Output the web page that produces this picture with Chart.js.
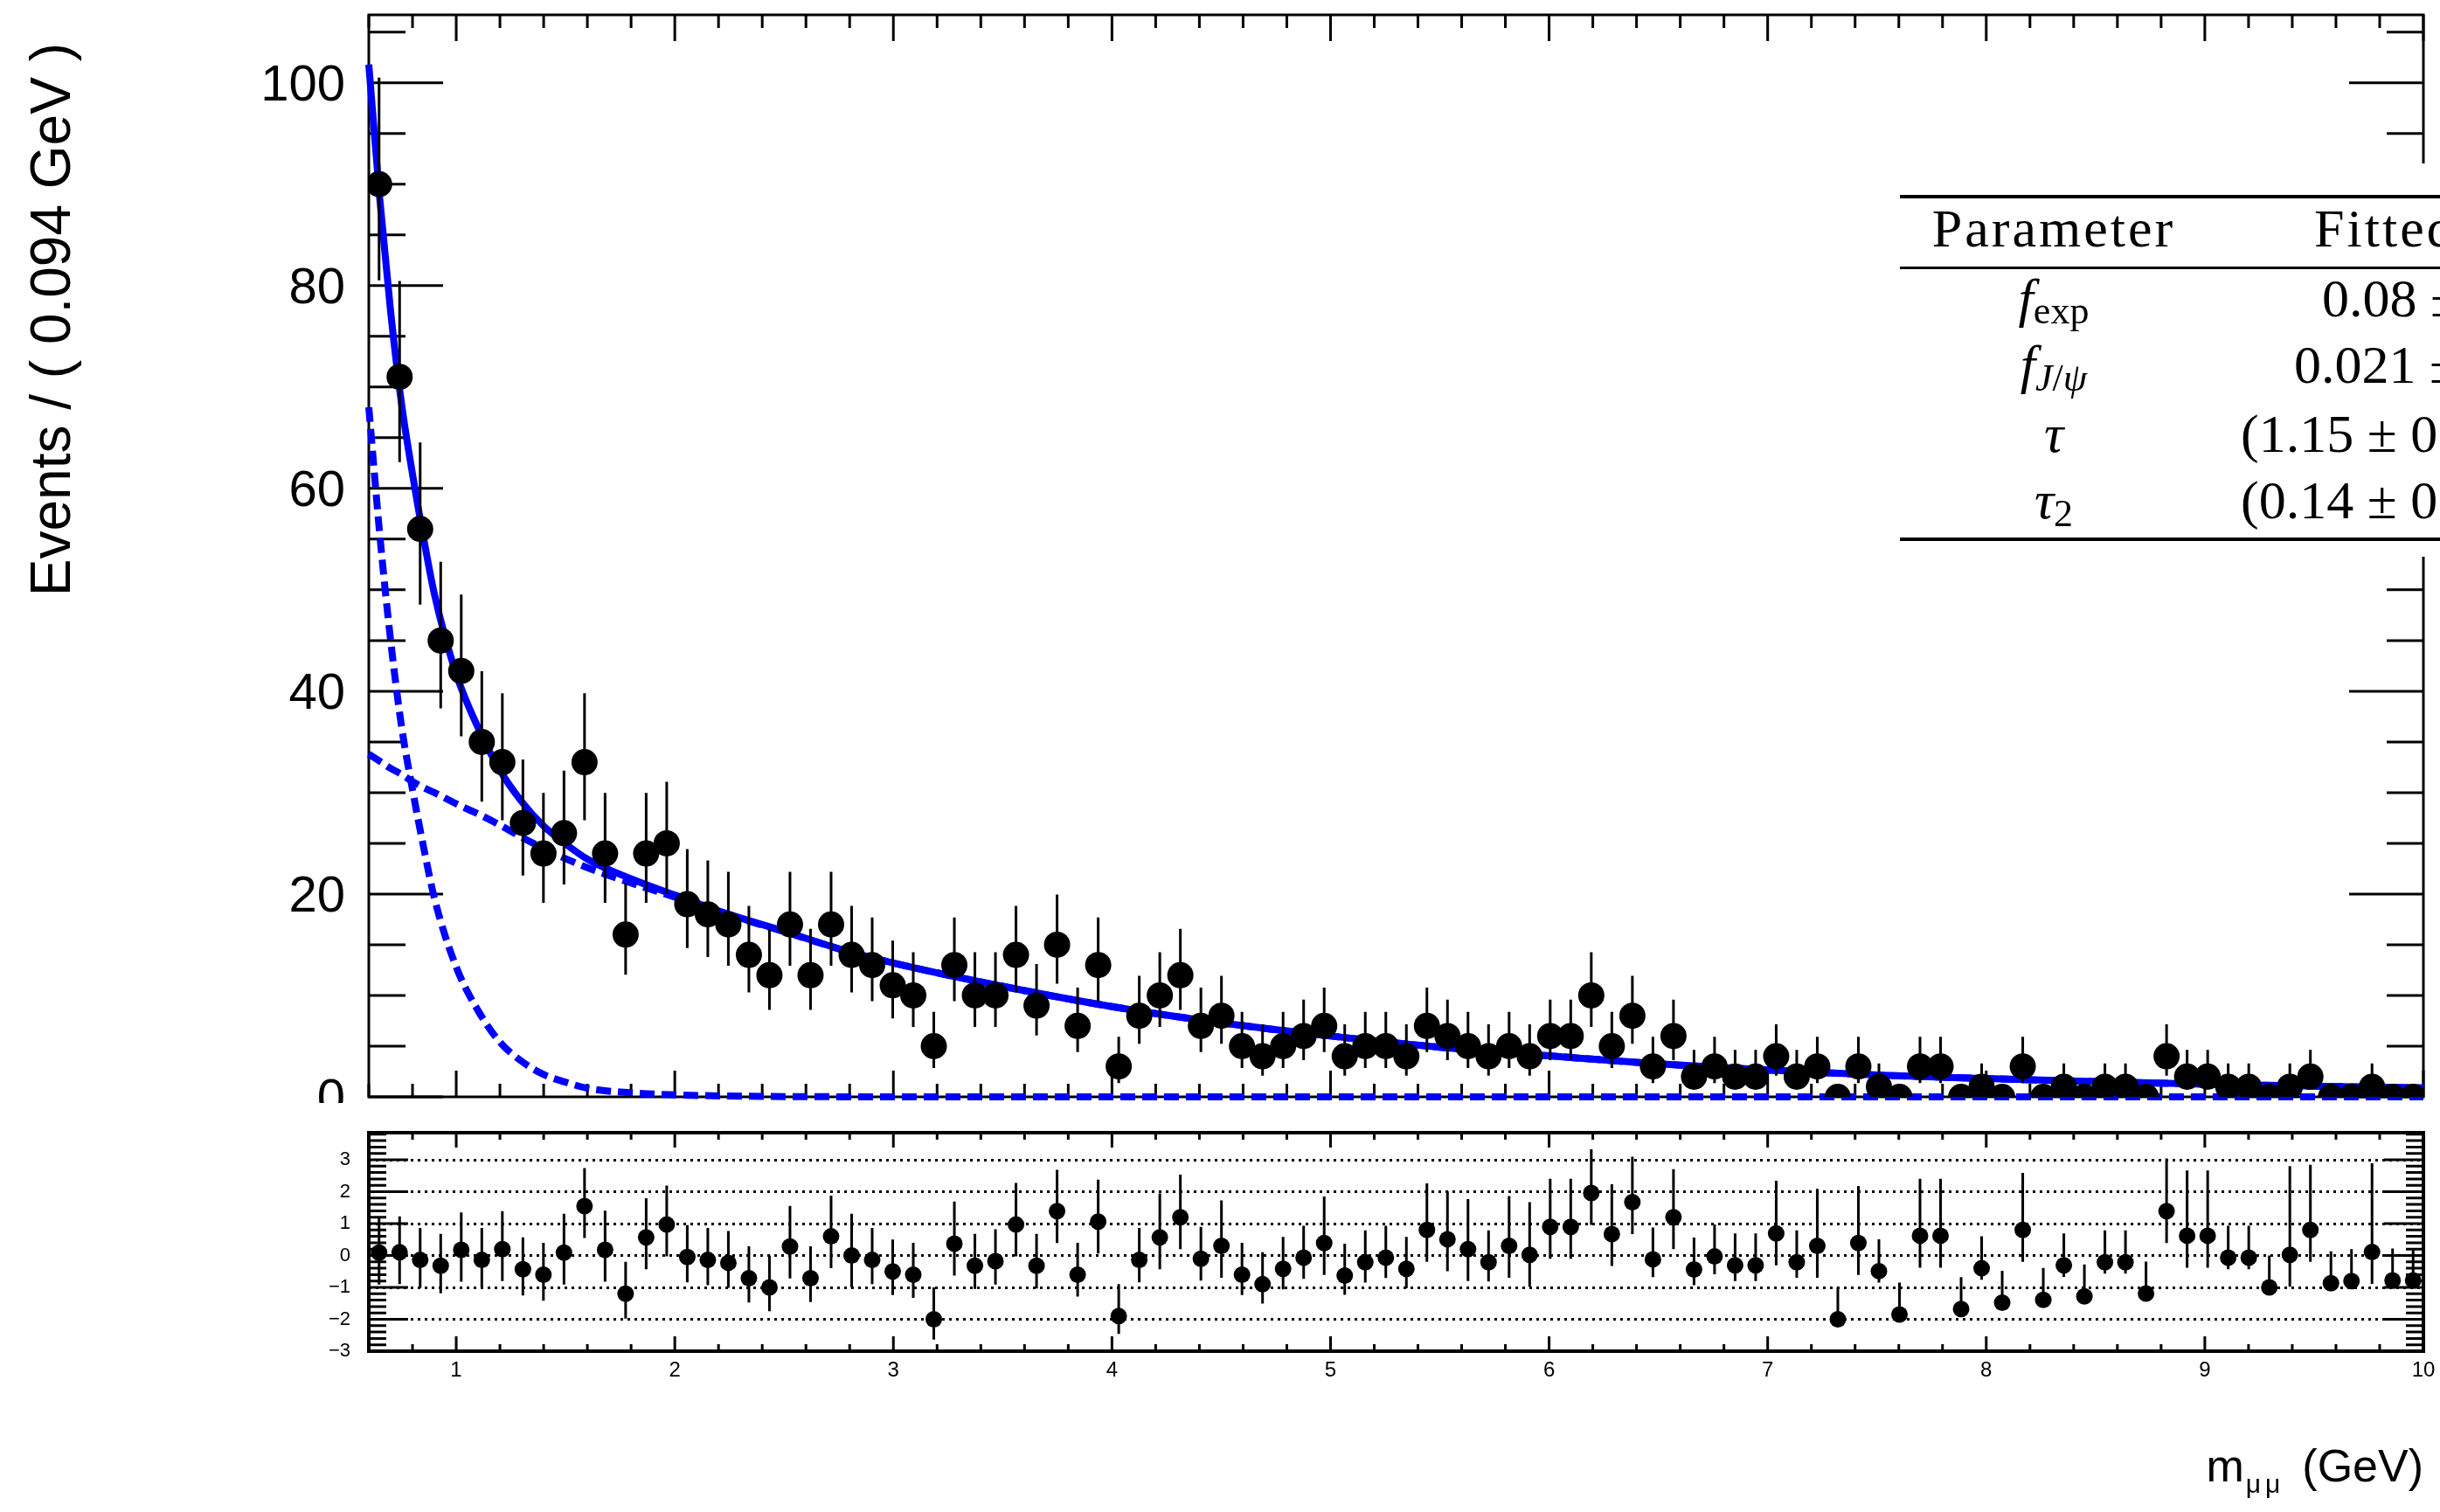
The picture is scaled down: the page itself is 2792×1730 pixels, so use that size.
<!DOCTYPE html>
<html>
<head>
<meta charset="utf-8">
<title>Dimuon mass fit</title>
<script src="https://cdn.jsdelivr.net/npm/chart.js@4.4.1/dist/chart.umd.min.js"></script>
<style>
  html, body { margin: 0; padding: 0; background: #fff; }
  body { position: relative; width: 2792px; height: 1730px; overflow: hidden; }
  #massChart { position: absolute; left: 0; top: 0; }
  #pullChart { position: absolute; left: 0; top: 1262px; background: #fff; }
</style>
</head>
<body>
<canvas id="massChart" width="2792" height="1262"></canvas>
<canvas id="pullChart" width="2792" height="468"></canvas>
<script>
// histogram binning (GeV)
const massRange = [0.6, 10.0];
const binCount = 100;

// events per bin
const eventCounts = [
    90, 71, 56, 45, 42, 35, 33, 27, 24, 26,
    33, 24, 16, 24, 25, 19, 18, 17, 14, 12,
    17, 12, 17, 14, 13, 11, 10, 5, 13, 10,
    10, 14, 9, 15, 7, 13, 3, 8, 10, 12,
    7, 8, 5, 4, 5, 6, 7, 4, 5, 5,
    4, 7, 6, 5, 4, 5, 4, 6, 6, 10,
    5, 8, 3, 6, 2, 3, 2, 2, 4, 2,
    3, 0, 3, 1, 0, 3, 3, 0, 1, 0,
    3, 0, 1, 0, 1, 1, 0, 4, 2, 2,
    1, 1, 0, 1, 2, 0, 0, 1, 0, 0
];

// pull per bin: (data - fit) / error
const pullValues = [
    0.09, 0.1, -0.14, -0.32, 0.18, -0.14, 0.2, -0.43, -0.6, 0.09,
    1.55, 0.18, -1.2, 0.57, 0.97, -0.05, -0.14, -0.23, -0.71, -1.0,
    0.28, -0.71, 0.6, 0.0, -0.14, -0.5, -0.6, -2.0, 0.37, -0.32,
    -0.18, 0.97, -0.32, 1.39, -0.6, 1.06, -1.9, -0.14, 0.57, 1.2,
    -0.1, 0.3, -0.6, -0.9, -0.42, -0.07, 0.39, -0.63, -0.21, -0.07,
    -0.42, 0.8, 0.51, 0.2, -0.21, 0.3, 0.02, 0.9, 0.9, 1.96,
    0.67, 1.67, -0.12, 1.2, -0.44, -0.03, -0.31, -0.31, 0.69, -0.21,
    0.3, -2.0, 0.39, -0.49, -1.85, 0.62, 0.62, -1.68, -0.4, -1.48,
    0.8, -1.39, -0.31, -1.28, -0.21, -0.21, -1.19, 1.39, 0.62, 0.62,
    -0.07, -0.07, -1.0, 0.02, 0.8, -0.87, -0.8, 0.11, -0.78, -0.78
];

// fitted model and its two exponential components, sampled along m_mumu
const fitMass = [0.6, 0.65, 0.7, 0.75, 0.8, 0.85, 0.9, 1.0, 1.1, 1.2, 1.3, 1.4, 1.5, 1.6, 1.8, 2.0, 2.25, 2.5, 2.75, 3.0,
    3.5, 4.0, 4.5, 5.0, 5.5, 6.0, 6.5, 7.0, 7.5, 8.0, 8.5, 9.0, 9.5, 10.0];
const fitTotal = [101.8, 88.6, 77.4, 68.3, 61.4, 55.2, 49.6, 41.7, 36.4, 32.2, 29.1, 26.7, 24.95, 23.45, 21.5, 19.9, 17.98, 16.33, 14.61, 13.2,
    10.9, 8.9, 7.3, 6.0, 4.9, 4.05, 3.25, 2.65, 2.15, 1.8, 1.5, 1.25, 1.05, 0.88];
const fitSlowExp = [33.8, 33.1, 32.4, 31.8, 31.1, 30.5, 30.0, 28.9, 27.9, 26.8, 25.6, 24.5, 23.5, 22.6, 21.1, 19.7, 17.9, 16.3, 14.6, 13.2,
    10.9, 8.9, 7.3, 6.0, 4.9, 4.05, 3.25, 2.65, 2.15, 1.8, 1.5, 1.25, 1.05, 0.88];
const fitFastExp = [68.0, 55.5, 45.0, 36.5, 30.3, 24.7, 19.6, 12.8, 8.5, 5.4, 3.5, 2.2, 1.45, 0.85, 0.4, 0.2, 0.08, 0.03, 0.01, 0,
    0, 0, 0, 0, 0, 0, 0, 0, 0, 0, 0, 0, 0, 0];

// labelled ticks
const countTicks = [0, 20, 40, 60, 80, 100];
const pullTicks = [-3, -2, -1, 0, 1, 2, 3];
const massTicks = [1, 2, 3, 4, 5, 6, 7, 8, 9, 10];

const SANS = '"Liberation Sans", Arial, Helvetica, sans-serif';
const SERIF = '"Liberation Serif", "Times New Roman", serif';
const BLUE = '#0000ff';

// P(X <= n) for a Poisson mean mu
function poissonCdf(n, mu) {
    let term = Math.exp(-mu);
    let sum = term;
    for (let k = 1; k <= n; k++) {
        term *= mu / k;
        sum += term;
    }
    return sum;
}

// 68% central Poisson interval, same convention as RooFit
function poissonInterval(n) {
    if (n === 0) return [0, 1.148];
    const a = 0.158655;
    let lo = n, hi = n + 10 * Math.sqrt(n) + 10;
    for (let i = 0; i < 60; i++) {
        const mid = (lo + hi) / 2;
        if (poissonCdf(n, mid) > a) lo = mid; else hi = mid;
    }
    const upper = (lo + hi) / 2;
    lo = 0; hi = n;
    for (let i = 0; i < 60; i++) {
        const mid = (lo + hi) / 2;
        if (1 - poissonCdf(n - 1, mid) < a) lo = mid; else hi = mid;
    }
    return [(lo + hi) / 2, upper];
}

function stepValues(from, to, step) {
    const out = [];
    const n = Math.round((to - from) / step);
    for (let i = 0; i <= n; i++) out.push(Math.round((from + i * step) * 1000) / 1000);
    return out;
}

const binWidth = (massRange[1] - massRange[0]) / binCount;
const binCenters = eventCounts.map((_, i) => massRange[0] + (i + 0.5) * binWidth);
const dataPoints = eventCounts.map((n, i) => ({ x: binCenters[i], y: n }));
const dataErrors = eventCounts.map(n => poissonInterval(n));
const pullPoints = pullValues.map((p, i) => ({ x: binCenters[i], y: p }));
const pullErrors = pullValues.map((p, i) => {
    const n = eventCounts[i];
    const eLo = n - dataErrors[i][0];
    const eHi = dataErrors[i][1] - n;
    if (n === 0) return [p, p + 1];
    if (p >= 0) return [p - 1, p + eHi / eLo];
    return [p - eLo / eHi, p + 1];
});
const curve = values => fitMass.map((m, i) => ({ x: m, y: values[i] }));

// vertical error bars, drawn just before the markers of the dataset
const errorBarPlugin = {
    id: 'errorBars',
    beforeDatasetDraw(chart, args) {
        const ds = chart.data.datasets[args.index];
        if (!ds.errorBars) return;
        const { ctx, chartArea: a, scales: { x, y } } = chart;
        ctx.save();
        ctx.beginPath();
        ctx.rect(a.left, a.top, a.right - a.left, a.bottom - a.top);
        ctx.clip();
        ctx.strokeStyle = '#000';
        ctx.lineWidth = ds.errorBarWidth;
        ctx.beginPath();
        ds.data.forEach((pt, i) => {
            const px = x.getPixelForValue(pt.x);
            ctx.moveTo(px, y.getPixelForValue(ds.errorBars[i][0]));
            ctx.lineTo(px, y.getPixelForValue(ds.errorBars[i][1]));
        });
        ctx.stroke();
        ctx.restore();
    }
};

// box around the plot area with inward ticks on all four sides
const framePlugin = {
    id: 'rootFrame',
    beforeDatasetsDraw(chart, args, opts) {
        const { ctx, chartArea: a, scales: { x, y } } = chart;
        ctx.save();
        ctx.strokeStyle = '#000';
        ctx.lineWidth = opts.tickWidth;
        ctx.beginPath();
        opts.xMinor.forEach(v => {
            const len = opts.isXMajor(v) ? opts.xMajorLen : opts.xMinorLen;
            const px = x.getPixelForValue(v);
            ctx.moveTo(px, a.bottom); ctx.lineTo(px, a.bottom - len);
            ctx.moveTo(px, a.top); ctx.lineTo(px, a.top + len);
        });
        opts.yMinor.forEach(v => {
            const len = opts.isYMajor(v) ? opts.yMajorLen : opts.yMinorLen;
            const py = y.getPixelForValue(v);
            ctx.moveTo(a.left, py); ctx.lineTo(a.left + len, py);
            ctx.moveTo(a.right, py); ctx.lineTo(a.right - len, py);
        });
        ctx.stroke();
        ctx.lineWidth = opts.frameWidth;
        ctx.strokeRect(a.left, a.top, a.right - a.left, a.bottom - a.top);
        ctx.restore();
    }
};

// draws a sequence of text pieces (with optional baseline shift) from x
function drawRuns(ctx, runs, x, baseline, align) {
    let width = 0;
    runs.forEach(r => { ctx.font = r.font; width += ctx.measureText(r.t).width; });
    let cx = align === 'center' ? x - width / 2 : x;
    ctx.textAlign = 'left';
    runs.forEach(r => {
        ctx.font = r.font;
        ctx.fillText(r.t, cx, baseline + (r.dy || 0));
        cx += ctx.measureText(r.t).width;
    });
}

// y-axis title and the table of fitted parameters
const massTextPlugin = {
    id: 'massText',
    afterDraw(chart) {
        const ctx = chart.ctx;
        ctx.save();
        ctx.fillStyle = '#000';
        ctx.font = '64px ' + SANS;
        ctx.textAlign = 'right';
        ctx.textBaseline = 'alphabetic';
        ctx.translate(80, 49);
        ctx.rotate(-Math.PI / 2);
        ctx.fillText('Events / ( 0.094 GeV )', 0, 0);
        ctx.restore();

        ctx.save();
        ctx.fillStyle = '#fff';
        ctx.fillRect(2160, 187, 2792 - 2160, 450);
        ctx.fillStyle = '#000';
        ctx.fillRect(2174, 223, 2792 - 2174, 4);
        ctx.fillRect(2174, 305, 2792 - 2174, 3);
        ctx.fillRect(2174, 615, 2792 - 2174, 4);
        ctx.textBaseline = 'alphabetic';
        const rm = '62px ' + SERIF, it = 'italic 62px ' + SERIF;
        const sub = '44px ' + SERIF, subIt = 'italic 44px ' + SERIF;
        ctx.letterSpacing = '3px';
        drawRuns(ctx, [{ t: 'Parameter', font: rm }], 2350, 282, 'center');
        drawRuns(ctx, [{ t: 'Fitted', font: rm }], 2648, 282, 'left');
        ctx.letterSpacing = '0px';
        drawRuns(ctx, [{ t: 'f', font: it }, { t: 'exp', font: sub, dy: 8 }], 2350, 362, 'center');
        drawRuns(ctx, [{ t: 'f', font: it }, { t: 'J', font: subIt, dy: 9 }, { t: '/', font: sub, dy: 9 }, { t: 'ψ', font: subIt, dy: 9 }], 2350, 438, 'center');
        drawRuns(ctx, [{ t: 'τ', font: it }], 2350, 517, 'center');
        drawRuns(ctx, [{ t: 'τ', font: it }, { t: '2', font: sub, dy: 9 }], 2350, 593, 'center');
        drawRuns(ctx, [{ t: '0.08 ±', font: rm }], 2657, 362, 'left');
        drawRuns(ctx, [{ t: '0.021 ±', font: rm }], 2625, 438, 'left');
        drawRuns(ctx, [{ t: '(1.15 ± 0', font: rm }], 2564, 517, 'left');
        drawRuns(ctx, [{ t: '(0.14 ± 0', font: rm }], 2564, 593, 'left');
        ctx.restore();
    }
};

// x-axis title under the pull panel
const pullTextPlugin = {
    id: 'pullText',
    afterDraw(chart) {
        const ctx = chart.ctx;
        const right = chart.chartArea.right;
        const base = 433;
        ctx.save();
        ctx.fillStyle = '#000';
        ctx.textBaseline = 'alphabetic';
        ctx.textAlign = 'right';
        ctx.font = '52px ' + SANS;
        ctx.fillText('(GeV)', right, base);
        let xPos = right - ctx.measureText('(GeV)').width - 20;
        ctx.font = '30px ' + SANS;
        ctx.letterSpacing = '5px';
        ctx.fillText('μμ', xPos, base + 13);
        xPos -= ctx.measureText('μμ').width + 2;
        ctx.letterSpacing = '0px';
        ctx.font = '52px ' + SANS;
        ctx.fillText('m', xPos, base);
        ctx.restore();
    }
};

const fixedWidth = w => scale => {
    scale.width = w;
    scale.paddingTop = 0;
    scale.paddingBottom = 0;
};

// upper panel: events per bin with fit
new Chart(document.getElementById('massChart'), {
    type: 'scatter',
    data: {
        datasets: [
            {
                label: 'data',
                data: dataPoints,
                errorBars: dataErrors,
                errorBarWidth: 3,
                pointRadius: 15,
                pointBackgroundColor: '#000',
                pointBorderWidth: 0,
                order: 0
            },
            {
                type: 'line',
                label: 'fit',
                data: curve(fitTotal),
                borderColor: BLUE,
                borderWidth: 8,
                pointRadius: 0,
                cubicInterpolationMode: 'monotone',
                clip: 8,
                order: 1
            },
            {
                type: 'line',
                label: 'slow exponential',
                data: curve(fitSlowExp),
                borderColor: BLUE,
                borderWidth: 8,
                borderDash: [17, 8],
                pointRadius: 0,
                cubicInterpolationMode: 'monotone',
                clip: 8,
                order: 2
            },
            {
                type: 'line',
                label: 'fast exponential',
                data: curve(fitFastExp),
                borderColor: BLUE,
                borderWidth: 8,
                borderDash: [17, 8],
                pointRadius: 0,
                cubicInterpolationMode: 'monotone',
                clip: 8,
                order: 3
            }
        ]
    },
    options: {
        responsive: false,
        animation: false,
        devicePixelRatio: 1,
        events: [],
        layout: { autoPadding: false, padding: { top: 17, right: 19, bottom: 7, left: 0 } },
        plugins: {
            legend: { display: false },
            tooltip: { enabled: false },
            rootFrame: {
                frameWidth: 3,
                tickWidth: 3,
                xMinor: stepValues(0.6, 10, 0.2),
                isXMajor: v => Number.isInteger(v),
                xMajorLen: 30,
                xMinorLen: 15,
                yMinor: stepValues(0, 105, 5),
                isYMajor: v => v % 20 === 0,
                yMajorLen: 85,
                yMinorLen: 42
            }
        },
        scales: {
            x: { type: 'linear', min: massRange[0], max: massRange[1], display: false },
            y: {
                type: 'linear',
                min: 0,
                max: 106.7,
                afterBuildTicks: scale => { scale.ticks = countTicks.map(v => ({ value: v })); },
                afterFit: fixedWidth(422),
                grid: { display: false, drawTicks: false },
                border: { display: false },
                ticks: { color: '#000', padding: 27, labelOffset: 4, font: { family: SANS, size: 58 } }
            }
        }
    },
    plugins: [framePlugin, errorBarPlugin, massTextPlugin]
});

// lower panel: pulls
new Chart(document.getElementById('pullChart'), {
    type: 'scatter',
    data: {
        datasets: [{
            label: 'pull',
            data: pullPoints,
            errorBars: pullErrors,
            errorBarWidth: 3,
            pointRadius: 9.5,
            pointBackgroundColor: '#000',
            pointBorderWidth: 0
        }]
    },
    options: {
        responsive: false,
        animation: false,
        devicePixelRatio: 1,
        events: [],
        layout: { autoPadding: false, padding: { top: 34, right: 19, bottom: 144, left: 0 } },
        plugins: {
            legend: { display: false },
            tooltip: { enabled: false },
            rootFrame: {
                frameWidth: 4,
                tickWidth: 3,
                xMinor: stepValues(0.6, 10, 0.2),
                isXMajor: v => Number.isInteger(v),
                xMajorLen: 17,
                xMinorLen: 8,
                yMinor: stepValues(-3, 3.8, 0.2),
                isYMajor: v => Number.isInteger(v),
                yMajorLen: 45,
                yMinorLen: 20
            }
        },
        scales: {
            x: {
                type: 'linear',
                min: massRange[0],
                max: massRange[1],
                afterBuildTicks: scale => { scale.ticks = massTicks.map(v => ({ value: v })); },
                afterFit: scale => { scale.height = 40; scale.paddingLeft = 0; scale.paddingRight = 0; },
                grid: { display: false, drawTicks: false },
                border: { display: false },
                ticks: { color: '#000', padding: 8, maxRotation: 0, font: { family: SANS, size: 24 } }
            },
            y: {
                type: 'linear',
                min: -3,
                max: 3.85,
                afterBuildTicks: scale => { scale.ticks = pullTicks.map(v => ({ value: v })); },
                afterFit: fixedWidth(422),
                grid: { display: true, drawTicks: false, color: '#000', lineWidth: 3 },
                border: { display: false, dash: [3, 5] },
                ticks: {
                    color: '#000',
                    padding: 21,
                    font: { family: SANS, size: 22 },
                    callback: v => (v < 0 ? '\u2212' + Math.abs(v) : String(v))
                }
            }
        }
    },
    plugins: [framePlugin, errorBarPlugin, pullTextPlugin]
});
</script>
</body>
</html>
